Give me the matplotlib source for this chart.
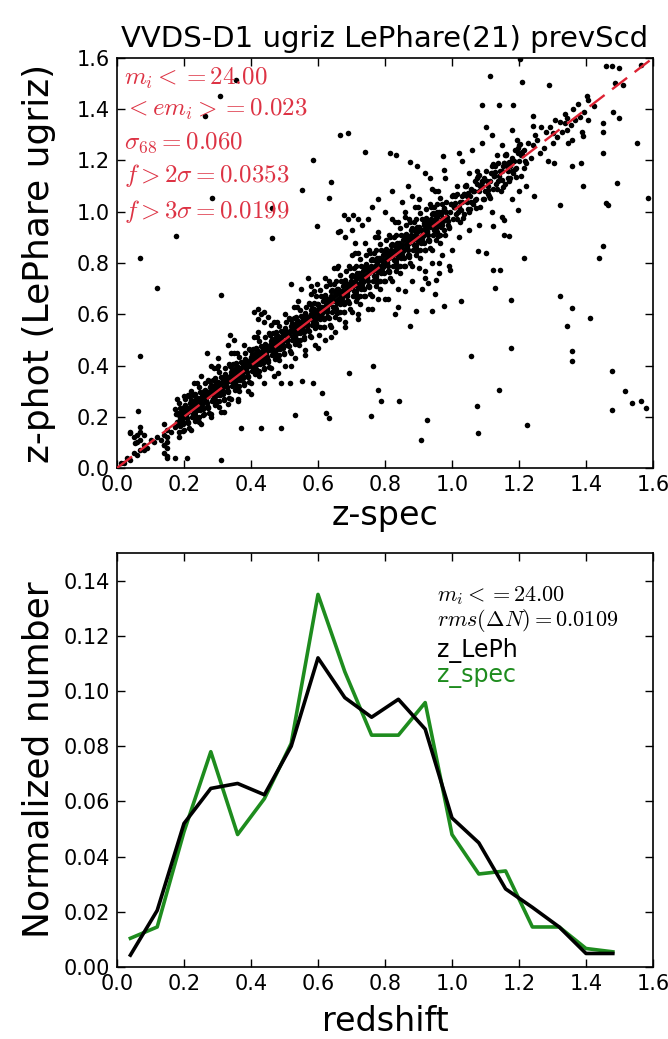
import matplotlib
matplotlib.use("Agg")
import matplotlib.pyplot as plt
import numpy as np

plt.rcParams['mathtext.fontset'] = 'cm'
plt.rcParams['font.family'] = ['DejaVu Sans']

# ---------------- top panel data (z-spec vs z-phot) ----------------
low_zspec = [0.02, 0.03, 0.04, 0.05, 0.06, 0.05, 0.06, 0.07, 0.07, 0.08,
             0.06, 0.08, 0.09, 0.10, 0.04, 0.07, 0.08, 0.11, 0.12, 0.13,
             0.14, 0.15, 0.14, 0.15, 0.15, 0.14, 0.15, 0.16, 0.15, 0.14]
low_zphot = [0.02, 0.04, 0.03, 0.06, 0.05, 0.12, 0.13, 0.11, 0.14, 0.13,
             0.10, 0.09, 0.08, 0.11, 0.14, 0.16, 0.07, 0.10, 0.12, 0.11,
             0.13, 0.15, 0.06, 0.08, 0.10, 0.17, 0.12, 0.14, 0.04, 0.09]

band_zspec = [
    0.172, 0.176, 0.180, 0.185, 0.189, 0.174, 0.182, 0.187, 0.178, 0.184,
    0.191, 0.197, 0.201, 0.206, 0.208, 0.195, 0.203, 0.199, 0.209, 0.193,
    0.213, 0.218, 0.223, 0.228, 0.211, 0.225, 0.220, 0.216, 0.226, 0.229,
    0.232, 0.236, 0.240, 0.245, 0.249, 0.234, 0.242, 0.247, 0.238, 0.244,
    0.251, 0.257, 0.261, 0.266, 0.268, 0.255, 0.263, 0.259, 0.269, 0.253,
    0.273, 0.278, 0.283, 0.288, 0.271, 0.285, 0.280, 0.276, 0.286, 0.289,
    0.292, 0.296, 0.300, 0.305, 0.309, 0.294, 0.302, 0.307, 0.298, 0.304,
    0.311, 0.317, 0.321, 0.326, 0.328, 0.315, 0.323, 0.319, 0.329, 0.313,
    0.333, 0.338, 0.343, 0.348, 0.331, 0.345, 0.340, 0.336, 0.346, 0.349,
    0.352, 0.356, 0.360, 0.365, 0.369, 0.354, 0.362, 0.367, 0.358, 0.364,
    0.371, 0.377, 0.381, 0.386, 0.388, 0.375, 0.383, 0.379, 0.389, 0.373,
    0.393, 0.398, 0.403, 0.408, 0.391, 0.405, 0.400, 0.396, 0.406, 0.409,
    0.412, 0.416, 0.420, 0.425, 0.429, 0.414, 0.422, 0.427, 0.418, 0.424,
    0.431, 0.437, 0.441, 0.446, 0.448, 0.435, 0.443, 0.439, 0.449, 0.433,
    0.453, 0.458, 0.463, 0.468, 0.451, 0.465, 0.460, 0.456, 0.466, 0.469,
    0.472, 0.476, 0.480, 0.485, 0.489, 0.474, 0.482, 0.487, 0.478, 0.484,
    0.491, 0.497, 0.501, 0.506, 0.508, 0.495, 0.503, 0.499, 0.509, 0.493,
    0.513, 0.518, 0.523, 0.528, 0.511, 0.525, 0.520, 0.516, 0.526, 0.529,
    0.532, 0.536, 0.540, 0.545, 0.549, 0.534, 0.542, 0.547, 0.538, 0.544,
    0.551, 0.557, 0.561, 0.566, 0.568, 0.555, 0.563, 0.559, 0.569, 0.553,
    0.573, 0.578, 0.583, 0.588, 0.571, 0.585, 0.580, 0.576, 0.586, 0.589,
    0.592, 0.596, 0.600, 0.605, 0.609, 0.594, 0.602, 0.607, 0.598, 0.604,
    0.611, 0.617, 0.621, 0.626, 0.628, 0.615, 0.623, 0.619, 0.629, 0.613,
    0.633, 0.638, 0.643, 0.648, 0.631, 0.645, 0.640, 0.636, 0.646, 0.649,
    0.652, 0.656, 0.660, 0.665, 0.669, 0.654, 0.662, 0.667, 0.658, 0.664,
    0.671, 0.677, 0.681, 0.686, 0.688, 0.675, 0.683, 0.679, 0.689, 0.673,
    0.693, 0.698, 0.703, 0.708, 0.691, 0.705, 0.700, 0.696, 0.706, 0.709,
    0.712, 0.716, 0.720, 0.725, 0.729, 0.714, 0.722, 0.727, 0.718, 0.724,
    0.731, 0.737, 0.741, 0.746, 0.748, 0.735, 0.743, 0.739, 0.749, 0.733,
    0.753, 0.758, 0.763, 0.768, 0.751, 0.765, 0.760, 0.756, 0.766, 0.769,
    0.772, 0.776, 0.780, 0.785, 0.789, 0.774, 0.782, 0.787, 0.778, 0.784,
    0.791, 0.797, 0.801, 0.806, 0.808, 0.795, 0.803, 0.799, 0.809, 0.793,
    0.813, 0.818, 0.823, 0.828, 0.811, 0.825, 0.820, 0.816, 0.826, 0.829,
    0.832, 0.836, 0.840, 0.845, 0.849, 0.834, 0.842, 0.847, 0.838, 0.844,
    0.851, 0.857, 0.861, 0.866, 0.868, 0.855, 0.863, 0.859, 0.869, 0.853,
    0.873, 0.878, 0.883, 0.888, 0.871, 0.885, 0.880, 0.876, 0.886, 0.889,
    0.892, 0.896, 0.900, 0.905, 0.909, 0.894, 0.902, 0.907, 0.898, 0.904,
    0.911, 0.917, 0.921, 0.926, 0.928, 0.915, 0.923, 0.919, 0.929, 0.913,
    0.933, 0.938, 0.943, 0.948, 0.931, 0.945, 0.940, 0.936, 0.946, 0.949,
    0.952, 0.956, 0.960, 0.965, 0.969, 0.954, 0.962, 0.967, 0.958, 0.964,
]
band_zphot = [
    0.16, 0.21, 0.18, 0.14, 0.19, 0.23, 0.17, 0.20, 0.27, 0.12,
    0.21, 0.17, 0.24, 0.20, 0.18, 0.22, 0.27, 0.15, 0.23, 0.19,
    0.22, 0.24, 0.20, 0.26, 0.18, 0.23, 0.15, 0.28, 0.21, 0.33,
    0.22, 0.27, 0.24, 0.20, 0.25, 0.29, 0.23, 0.26, 0.33, 0.18,
    0.27, 0.23, 0.30, 0.26, 0.24, 0.28, 0.33, 0.21, 0.29, 0.25,
    0.28, 0.30, 0.26, 0.32, 0.24, 0.29, 0.21, 0.34, 0.27, 0.39,
    0.28, 0.33, 0.30, 0.26, 0.31, 0.35, 0.29, 0.32, 0.39, 0.24,
    0.33, 0.29, 0.36, 0.32, 0.30, 0.34, 0.39, 0.27, 0.35, 0.31,
    0.34, 0.36, 0.32, 0.38, 0.30, 0.35, 0.27, 0.40, 0.33, 0.45,
    0.34, 0.39, 0.36, 0.32, 0.37, 0.41, 0.35, 0.38, 0.45, 0.30,
    0.39, 0.35, 0.42, 0.38, 0.36, 0.40, 0.45, 0.33, 0.41, 0.37,
    0.40, 0.42, 0.38, 0.44, 0.36, 0.41, 0.33, 0.46, 0.39, 0.51,
    0.40, 0.45, 0.42, 0.38, 0.43, 0.47, 0.41, 0.44, 0.51, 0.36,
    0.45, 0.41, 0.48, 0.44, 0.42, 0.46, 0.51, 0.39, 0.47, 0.43,
    0.46, 0.48, 0.44, 0.50, 0.42, 0.47, 0.39, 0.52, 0.45, 0.57,
    0.46, 0.51, 0.48, 0.44, 0.49, 0.53, 0.47, 0.50, 0.57, 0.42,
    0.51, 0.47, 0.54, 0.50, 0.48, 0.52, 0.57, 0.45, 0.53, 0.49,
    0.52, 0.54, 0.50, 0.56, 0.48, 0.53, 0.45, 0.58, 0.51, 0.63,
    0.52, 0.57, 0.54, 0.50, 0.55, 0.59, 0.53, 0.56, 0.63, 0.48,
    0.57, 0.53, 0.60, 0.56, 0.54, 0.58, 0.63, 0.51, 0.59, 0.55,
    0.58, 0.60, 0.56, 0.62, 0.54, 0.59, 0.51, 0.64, 0.57, 0.69,
    0.57, 0.64, 0.60, 0.55, 0.61, 0.67, 0.59, 0.63, 0.72, 0.52,
    0.63, 0.58, 0.67, 0.62, 0.59, 0.65, 0.71, 0.55, 0.66, 0.61,
    0.64, 0.67, 0.61, 0.69, 0.59, 0.65, 0.55, 0.72, 0.63, 0.78,
    0.63, 0.70, 0.66, 0.61, 0.67, 0.73, 0.65, 0.69, 0.78, 0.58,
    0.69, 0.64, 0.73, 0.68, 0.65, 0.71, 0.77, 0.61, 0.72, 0.67,
    0.70, 0.73, 0.67, 0.75, 0.65, 0.71, 0.61, 0.78, 0.69, 0.84,
    0.69, 0.76, 0.72, 0.67, 0.73, 0.79, 0.71, 0.75, 0.84, 0.64,
    0.75, 0.70, 0.79, 0.74, 0.71, 0.77, 0.83, 0.67, 0.78, 0.73,
    0.76, 0.79, 0.73, 0.81, 0.71, 0.77, 0.67, 0.84, 0.75, 0.90,
    0.75, 0.82, 0.78, 0.73, 0.79, 0.85, 0.77, 0.81, 0.90, 0.70,
    0.81, 0.76, 0.85, 0.80, 0.77, 0.83, 0.89, 0.73, 0.84, 0.79,
    0.82, 0.85, 0.79, 0.87, 0.77, 0.83, 0.73, 0.90, 0.81, 0.96,
    0.81, 0.88, 0.84, 0.79, 0.85, 0.91, 0.83, 0.87, 0.96, 0.76,
    0.87, 0.82, 0.91, 0.86, 0.83, 0.89, 0.95, 0.79, 0.90, 0.85,
    0.88, 0.91, 0.85, 0.93, 0.83, 0.89, 0.79, 0.96, 0.87, 1.02,
    0.87, 0.94, 0.90, 0.85, 0.91, 0.97, 0.89, 0.93, 1.02, 0.82,
    0.93, 0.88, 0.97, 0.92, 0.89, 0.95, 1.01, 0.85, 0.96, 0.91,
    0.94, 0.97, 0.91, 0.99, 0.89, 0.95, 0.85, 1.02, 0.93, 1.08,
    0.93, 1.00, 0.96, 0.91, 0.97, 1.03, 0.95, 0.99, 1.08, 0.88,
]

band2_zspec = [
    0.184, 0.191, 0.197, 0.187, 0.194, 0.181, 0.198, 0.189, 0.193, 0.185,
    0.212, 0.203, 0.216, 0.208, 0.219, 0.206, 0.210, 0.215, 0.202, 0.213,
    0.225, 0.234, 0.229, 0.238, 0.222, 0.232, 0.236, 0.227, 0.230, 0.237,
    0.244, 0.251, 0.257, 0.247, 0.254, 0.241, 0.258, 0.249, 0.253, 0.245,
    0.272, 0.263, 0.276, 0.268, 0.279, 0.266, 0.270, 0.275, 0.262, 0.273,
    0.285, 0.294, 0.289, 0.298, 0.282, 0.292, 0.296, 0.287, 0.290, 0.297,
    0.304, 0.311, 0.317, 0.307, 0.314, 0.301, 0.318, 0.309, 0.313, 0.305,
    0.332, 0.323, 0.336, 0.328, 0.339, 0.326, 0.330, 0.335, 0.322, 0.333,
    0.345, 0.354, 0.349, 0.358, 0.342, 0.352, 0.356, 0.347, 0.350, 0.357,
    0.364, 0.371, 0.377, 0.367, 0.374, 0.361, 0.378, 0.369, 0.373, 0.365,
    0.392, 0.383, 0.396, 0.388, 0.399, 0.386, 0.390, 0.395, 0.382, 0.393,
    0.405, 0.414, 0.409, 0.418, 0.402, 0.412, 0.416, 0.407, 0.410, 0.417,
    0.424, 0.431, 0.437, 0.427, 0.434, 0.421, 0.438, 0.429, 0.433, 0.425,
    0.452, 0.443, 0.456, 0.448, 0.459, 0.446, 0.450, 0.455, 0.442, 0.453,
    0.465, 0.474, 0.469, 0.478, 0.462, 0.472, 0.476, 0.467, 0.470, 0.477,
    0.484, 0.491, 0.497, 0.487, 0.494, 0.481, 0.498, 0.489, 0.493, 0.485,
    0.512, 0.503, 0.516, 0.508, 0.519, 0.506, 0.510, 0.515, 0.502, 0.513,
    0.525, 0.534, 0.529, 0.538, 0.522, 0.532, 0.536, 0.527, 0.530, 0.537,
    0.544, 0.551, 0.557, 0.547, 0.554, 0.541, 0.558, 0.549, 0.553, 0.545,
    0.572, 0.563, 0.576, 0.568, 0.579, 0.566, 0.570, 0.575, 0.562, 0.573,
    0.585, 0.594, 0.589, 0.598, 0.582, 0.592, 0.596, 0.587, 0.590, 0.597,
    0.604, 0.611, 0.617, 0.607, 0.614, 0.601, 0.618, 0.609, 0.613, 0.605,
    0.632, 0.623, 0.636, 0.628, 0.639, 0.626, 0.630, 0.635, 0.622, 0.633,
    0.645, 0.654, 0.649, 0.658, 0.642, 0.652, 0.656, 0.647, 0.650, 0.657,
    0.664, 0.671, 0.677, 0.667, 0.674, 0.661, 0.678, 0.669, 0.673, 0.665,
    0.692, 0.683, 0.696, 0.688, 0.699, 0.686, 0.690, 0.695, 0.682, 0.693,
    0.705, 0.714, 0.709, 0.718, 0.702, 0.712, 0.716, 0.707, 0.710, 0.717,
    0.724, 0.731, 0.737, 0.727, 0.734, 0.721, 0.738, 0.729, 0.733, 0.725,
    0.752, 0.743, 0.756, 0.748, 0.759, 0.746, 0.750, 0.755, 0.742, 0.753,
    0.765, 0.774, 0.769, 0.778, 0.762, 0.772, 0.776, 0.767, 0.770, 0.777,
    0.784, 0.791, 0.797, 0.787, 0.794, 0.781, 0.798, 0.789, 0.793, 0.785,
    0.812, 0.803, 0.816, 0.808, 0.819, 0.806, 0.810, 0.815, 0.802, 0.813,
    0.825, 0.834, 0.829, 0.838, 0.822, 0.832, 0.836, 0.827, 0.830, 0.837,
    0.844, 0.851, 0.857, 0.847, 0.854, 0.841, 0.858, 0.849, 0.853, 0.845,
    0.872, 0.863, 0.876, 0.868, 0.879, 0.866, 0.870, 0.875, 0.862, 0.873,
    0.885, 0.894, 0.889, 0.898, 0.882, 0.892, 0.896, 0.887, 0.890, 0.897,
    0.904, 0.911, 0.917, 0.907, 0.914, 0.901, 0.918, 0.909, 0.913, 0.905,
    0.932, 0.923, 0.936, 0.928, 0.939, 0.926, 0.930, 0.935, 0.922, 0.933,
    0.945, 0.954, 0.949, 0.958, 0.942, 0.952, 0.956, 0.947, 0.950, 0.957,
    0.964, 0.971, 0.977, 0.967, 0.974, 0.961, 0.978, 0.969, 0.973, 0.965,
]
band2_zphot = [
    0.205, 0.175, 0.225, 0.165, 0.195, 0.215, 0.145, 0.235, 0.185, 0.255,
    0.175, 0.215, 0.235, 0.195, 0.255, 0.205, 0.225, 0.155, 0.245, 0.285,
    0.235, 0.205, 0.245, 0.225, 0.265, 0.185, 0.255, 0.285, 0.215, 0.195,
    0.265, 0.235, 0.285, 0.225, 0.255, 0.275, 0.205, 0.295, 0.245, 0.315,
    0.235, 0.275, 0.295, 0.255, 0.315, 0.265, 0.285, 0.215, 0.305, 0.345,
    0.295, 0.265, 0.305, 0.285, 0.325, 0.245, 0.315, 0.345, 0.275, 0.255,
    0.325, 0.295, 0.345, 0.285, 0.315, 0.335, 0.265, 0.355, 0.305, 0.375,
    0.295, 0.335, 0.355, 0.315, 0.375, 0.325, 0.345, 0.275, 0.365, 0.405,
    0.355, 0.325, 0.365, 0.345, 0.385, 0.305, 0.375, 0.405, 0.335, 0.315,
    0.385, 0.355, 0.405, 0.345, 0.375, 0.395, 0.325, 0.415, 0.365, 0.435,
    0.355, 0.395, 0.415, 0.375, 0.435, 0.385, 0.405, 0.335, 0.425, 0.465,
    0.415, 0.385, 0.425, 0.405, 0.445, 0.365, 0.435, 0.465, 0.395, 0.375,
    0.445, 0.415, 0.465, 0.405, 0.435, 0.455, 0.385, 0.475, 0.425, 0.495,
    0.415, 0.455, 0.475, 0.435, 0.495, 0.445, 0.465, 0.395, 0.485, 0.525,
    0.475, 0.445, 0.485, 0.465, 0.505, 0.425, 0.495, 0.525, 0.455, 0.435,
    0.505, 0.475, 0.525, 0.465, 0.495, 0.515, 0.445, 0.535, 0.485, 0.555,
    0.475, 0.515, 0.535, 0.495, 0.555, 0.505, 0.525, 0.455, 0.545, 0.585,
    0.535, 0.505, 0.545, 0.525, 0.565, 0.485, 0.555, 0.585, 0.515, 0.495,
    0.565, 0.535, 0.585, 0.525, 0.555, 0.575, 0.505, 0.595, 0.545, 0.615,
    0.535, 0.575, 0.595, 0.555, 0.615, 0.565, 0.585, 0.515, 0.605, 0.645,
    0.595, 0.565, 0.605, 0.585, 0.625, 0.545, 0.615, 0.645, 0.575, 0.555,
    0.630, 0.590, 0.655, 0.580, 0.615, 0.640, 0.550, 0.670, 0.605, 0.695,
    0.585, 0.635, 0.660, 0.610, 0.690, 0.625, 0.650, 0.560, 0.675, 0.730,
    0.655, 0.620, 0.670, 0.645, 0.695, 0.590, 0.680, 0.720, 0.630, 0.605,
    0.690, 0.650, 0.715, 0.640, 0.675, 0.700, 0.610, 0.730, 0.665, 0.755,
    0.645, 0.695, 0.720, 0.670, 0.750, 0.685, 0.710, 0.620, 0.735, 0.790,
    0.715, 0.680, 0.730, 0.705, 0.755, 0.650, 0.740, 0.780, 0.690, 0.665,
    0.750, 0.710, 0.775, 0.700, 0.735, 0.760, 0.670, 0.790, 0.725, 0.815,
    0.705, 0.755, 0.780, 0.730, 0.810, 0.745, 0.770, 0.680, 0.795, 0.850,
    0.775, 0.740, 0.790, 0.765, 0.815, 0.710, 0.800, 0.840, 0.750, 0.725,
    0.810, 0.770, 0.835, 0.760, 0.795, 0.820, 0.730, 0.850, 0.785, 0.875,
    0.765, 0.815, 0.840, 0.790, 0.870, 0.805, 0.830, 0.740, 0.855, 0.910,
    0.835, 0.800, 0.850, 0.825, 0.875, 0.770, 0.860, 0.900, 0.810, 0.785,
    0.870, 0.830, 0.895, 0.820, 0.855, 0.880, 0.790, 0.910, 0.845, 0.935,
    0.825, 0.875, 0.900, 0.850, 0.930, 0.865, 0.890, 0.800, 0.915, 0.970,
    0.895, 0.860, 0.910, 0.885, 0.935, 0.830, 0.920, 0.960, 0.870, 0.845,
    0.930, 0.890, 0.955, 0.880, 0.915, 0.940, 0.850, 0.970, 0.905, 0.995,
    0.885, 0.935, 0.960, 0.910, 0.990, 0.925, 0.950, 0.860, 0.975, 1.030,
    0.955, 0.920, 0.970, 0.945, 0.995, 0.890, 0.980, 1.020, 0.930, 0.905,
    0.990, 0.950, 1.015, 0.940, 0.975, 1.000, 0.910, 1.030, 0.965, 1.055,
]

high_zspec = [
    0.971, 0.977, 0.981, 0.986, 0.988, 0.975,
    0.993, 0.998, 1.003, 1.008, 0.991, 1.005,
    1.012, 1.016, 1.020, 1.025, 1.029, 1.014,
    1.031, 1.037, 1.041, 1.046, 1.048, 1.035,
    1.053, 1.058, 1.063, 1.068, 1.051, 1.065,
    1.072, 1.076, 1.080, 1.085, 1.089, 1.074,
    1.091, 1.097, 1.101, 1.106, 1.108, 1.095,
    1.113, 1.118, 1.123, 1.128, 1.111, 1.125,
    1.132, 1.136, 1.140, 1.145, 1.149, 1.134,
    1.151, 1.157, 1.161, 1.166, 1.168, 1.155,
    1.173, 1.178, 1.183, 1.188, 1.171, 1.185,
    1.192, 1.196, 1.200, 1.205, 1.209, 1.194,
    1.215, 1.222, 1.228, 1.236, 1.241, 1.247,
    1.253, 1.262, 1.266, 1.275, 1.281, 1.287,
    1.294, 1.302, 1.308, 1.314, 1.321, 1.327,
    1.336, 1.342, 1.347, 1.354, 1.362, 1.368,
    1.375, 1.383, 1.388, 1.394, 1.402, 1.407,
    0.992, 0.983, 0.996, 0.988, 0.999, 1.005,
    1.014, 1.009, 1.018, 1.002, 1.032, 1.023,
    1.036, 1.028, 1.039, 1.045, 1.054, 1.049,
    1.058, 1.042, 1.072, 1.063, 1.076, 1.068,
    1.079, 1.085, 1.094, 1.089, 1.098, 1.082,
    1.112, 1.103, 1.116, 1.108, 1.119, 1.125,
    1.134, 1.129, 1.138, 1.122, 1.152, 1.143,
    1.156, 1.148, 1.159, 1.165, 1.174, 1.169,
    1.178, 1.162, 1.192, 1.183, 1.196, 1.188,
    1.199, 1.205, 1.214, 1.209, 1.218, 1.202,
]
high_zphot = [
    1.00, 0.93, 1.04, 0.98, 0.95, 1.01,
    1.00, 1.03, 0.97, 1.06, 0.94, 1.02,
    0.99, 1.07, 1.02, 0.96, 1.04, 1.10,
    1.06, 0.99, 1.10, 1.04, 1.01, 1.07,
    1.06, 1.09, 1.03, 1.12, 1.00, 1.08,
    1.05, 1.13, 1.08, 1.02, 1.10, 1.16,
    1.12, 1.05, 1.16, 1.10, 1.07, 1.13,
    1.12, 1.15, 1.09, 1.18, 1.06, 1.14,
    1.11, 1.19, 1.14, 1.08, 1.16, 1.22,
    1.18, 1.11, 1.22, 1.16, 1.13, 1.19,
    1.18, 1.21, 1.15, 1.24, 1.12, 1.20,
    1.17, 1.25, 1.20, 1.14, 1.22, 1.28,
    1.24, 1.19, 1.27, 1.21, 1.26, 1.30,
    1.28, 1.23, 1.33, 1.25, 1.31, 1.20,
    1.33, 1.27, 1.36, 1.29, 1.35, 1.31,
    1.38, 1.32, 1.27, 1.34, 1.40, 1.36,
    1.42, 1.37, 1.31, 1.39, 1.45, 1.36,
    0.935, 1.000, 1.030, 0.965, 1.060, 1.020,
    0.970, 1.035, 1.000, 1.065, 0.975, 1.040,
    1.070, 1.005, 1.100, 1.060, 1.010, 1.075,
    1.040, 1.105, 1.015, 1.080, 1.110, 1.045,
    1.140, 1.100, 1.050, 1.115, 1.080, 1.145,
    1.055, 1.120, 1.150, 1.085, 1.180, 1.140,
    1.090, 1.155, 1.120, 1.185, 1.095, 1.160,
    1.190, 1.125, 1.220, 1.180, 1.130, 1.195,
    1.160, 1.225, 1.135, 1.200, 1.230, 1.165,
    1.260, 1.220, 1.170, 1.235, 1.200, 1.265,
]

cloud_zspec = [
    0.41, 0.42, 0.43, 0.44, 0.45, 0.42, 0.44, 0.52, 0.55, 0.57,
    0.58, 0.66, 0.68, 0.70, 0.71, 0.73, 0.69, 0.72, 0.75, 0.76,
    0.78, 0.80, 0.82, 0.85, 0.87, 0.86, 0.88, 0.90, 0.92, 0.94,
    0.96, 0.97, 0.99, 0.91, 0.95, 0.81, 0.84, 0.86, 0.83, 1.03,
    1.06, 1.09, 1.12, 1.15, 1.05, 1.18, 1.10, 1.02, 1.05, 1.08,
    1.12, 1.15, 1.18, 1.20, 1.22, 0.22, 0.25, 0.28, 0.30, 0.33,
    0.35, 0.20, 0.27, 0.25, 0.28, 0.31, 0.33, 0.36, 0.39, 0.47,
    0.50, 0.53, 0.56, 0.59, 0.49, 0.62, 0.65, 0.68, 0.72, 0.75,
    0.78, 0.951, 0.994, 0.929,
    0.30, 0.34, 0.38, 0.42, 0.46, 0.50, 0.54, 0.58, 0.62, 0.66,
    0.70, 0.74, 0.78, 0.82, 0.86, 0.90, 0.94, 0.98,
    0.32, 0.36, 0.40, 0.44, 0.48, 0.52, 0.56, 0.60, 0.64, 0.68,
    0.72, 0.76, 0.80, 0.84, 0.88, 0.92, 0.96, 1.00,
]
cloud_zphot = [
    0.61, 0.62, 0.60, 0.61, 0.59, 0.58, 0.57, 0.72, 0.70, 0.74,
    0.71, 0.92, 0.90, 0.93, 0.88, 0.95, 0.97, 0.97, 0.97, 1.02,
    1.05, 1.00, 1.08, 1.04, 1.10, 0.98, 1.06, 0.78, 0.74, 0.80,
    0.76, 0.83, 0.79, 0.70, 0.68, 0.66, 0.63, 0.69, 0.60, 1.20,
    1.24, 1.27, 1.30, 1.26, 1.15, 1.32, 1.33, 0.90, 0.93, 0.95,
    1.00, 0.98, 1.05, 1.08, 1.10, 0.30, 0.36, 0.40, 0.43, 0.48,
    0.50, 0.28, 0.45, 0.17, 0.20, 0.22, 0.25, 0.27, 0.30, 0.36,
    0.40, 0.43, 0.46, 0.48, 0.33, 0.50, 0.53, 0.57, 0.60, 0.62,
    0.66, 0.735, 0.774, 0.722,
    0.40, 0.45, 0.48, 0.53, 0.56, 0.60, 0.65, 0.68, 0.74, 0.79,
    0.83, 0.88, 0.92, 0.97, 1.00, 1.05, 1.09, 1.13,
    0.22, 0.26, 0.29, 0.33, 0.37, 0.40, 0.44, 0.47, 0.51, 0.55,
    0.58, 0.62, 0.66, 0.70, 0.73, 0.77, 0.80, 0.85,
]

outlier_zspec = [
    0.354, 0.306, 0.263, 1.208, 1.112, 1.203, 1.289, 1.461, 1.477, 1.498,
    1.563, 1.488, 1.509, 1.090, 1.139, 1.182, 1.407, 1.423, 1.482, 1.498,
    1.241, 1.241, 1.300, 1.343, 1.337, 0.666, 0.691, 1.552, 1.450, 1.450,
    1.450, 1.493, 1.584, 1.461, 1.466, 0.585, 0.741, 0.816, 0.832, 0.875,
    0.897, 0.918, 0.934, 0.972, 0.977, 1.020, 0.639, 0.634, 0.553, 0.462,
    0.285, 0.177, 0.462, 0.070, 0.118, 0.311, 0.338, 0.070, 0.666, 0.677,
    0.704, 0.596, 1.321, 1.359, 1.412, 1.343, 1.176, 1.058, 1.359, 1.359,
    1.477, 1.515, 1.536, 1.563, 1.579, 1.477, 1.224, 1.139, 1.074, 1.079,
    0.908, 0.924, 0.789, 0.757, 0.779, 0.843, 0.693, 0.763, 0.612, 0.634,
    0.623, 0.532, 0.489, 0.430, 0.371, 0.585, 0.553, 0.516, 0.875, 0.892,
    0.940, 0.977, 1.026, 1.128, 1.176, 1.122, 1.144, 1.214, 1.450, 1.439,
    1.079, 1.101, 1.155, 1.171, 0.038, 0.064, 0.054, 0.070, 0.140, 0.150,
    0.172, 0.209, 0.311, 0.011, 1.305, 1.359, 1.391, 1.386, 1.359, 1.391,
    1.321, 1.246, 1.198, 1.155, 1.122,
]
outlier_zphot = [
    1.515, 1.453, 1.372, 1.508, 1.528, 1.596, 1.493, 1.567, 1.567, 1.560,
    1.573, 1.502, 1.495, 1.417, 1.417, 1.417, 1.437, 1.411, 1.391, 1.365,
    1.372, 1.333, 1.307, 1.365, 1.346, 1.300, 1.307, 1.268, 1.346, 1.313,
    1.229, 1.112, 1.053, 1.034, 1.027, 1.203, 1.235, 1.229, 1.222, 1.196,
    1.177, 1.151, 1.131, 1.216, 1.164, 1.229, 1.118, 1.053, 1.086, 1.014,
    1.053, 0.904, 0.897, 0.819, 0.702, 0.676, 0.520, 0.436, 0.923, 0.988,
    0.988, 0.943, 0.670, 0.624, 0.585, 0.553, 0.468, 0.436, 0.455, 0.416,
    0.377, 0.299, 0.254, 0.260, 0.234, 0.228, 0.169, 0.306, 0.241, 0.137,
    0.111, 0.189, 0.260, 0.202, 0.306, 0.260, 0.371, 0.397, 0.293, 0.195,
    0.215, 0.208, 0.156, 0.156, 0.156, 0.332, 0.338, 0.332, 0.553, 0.611,
    0.611, 0.631, 0.650, 0.702, 0.657, 0.774, 0.774, 0.819, 0.865, 0.819,
    0.845, 0.839, 0.910, 0.904, 0.137, 0.221, 0.098, 0.072, 0.091, 0.046,
    0.039, 0.039, 0.030, 0.020, 1.190, 1.281, 1.294, 1.190, 1.177, 1.099,
    1.027, 1.060, 1.008, 0.969, 0.943,
]

stats_top = [r'$m_i <= 24.00$', r'$<em_i> = 0.023$', r'$\sigma_{68} = 0.060$',
             r'$f > 2\sigma = 0.0353$', r'$f > 3\sigma = 0.0199$']
stats_top_y = [1.52, 1.40, 1.27, 1.14, 1.00]

# ---------------- bottom panel data ----------------
z_bins = [0.04, 0.12, 0.20, 0.28, 0.36, 0.44, 0.52, 0.60, 0.68, 0.76,
          0.84, 0.92, 1.00, 1.08, 1.16, 1.24, 1.32, 1.40, 1.48]
n_leph = [0.0043, 0.0205, 0.052, 0.0647, 0.0665, 0.0624, 0.080, 0.112, 0.0976, 0.0905,
          0.097, 0.0862, 0.054, 0.045, 0.0283, 0.0216, 0.0145, 0.0049, 0.0049]
n_spec = [0.0104, 0.0145, 0.049, 0.078, 0.048, 0.061, 0.081, 0.135, 0.107, 0.084,
          0.084, 0.0958, 0.048, 0.0337, 0.0348, 0.0145, 0.0145, 0.0067, 0.0055]

W, H = 668, 1039
fig = plt.figure(figsize=(W / 100, H / 100), dpi=100)

ax1 = fig.add_axes([117 / W, 1 - 468 / H, 536 / W, 410 / H])
ax2 = fig.add_axes([117 / W, 1 - 967 / H, 536 / W, 414 / H])

zs_all = low_zspec + band_zspec + band2_zspec + high_zspec + cloud_zspec + outlier_zspec
zp_all = low_zphot + band_zphot + band2_zphot + high_zphot + cloud_zphot + outlier_zphot
ax1.scatter(zs_all, zp_all, s=16, c='k', linewidths=0, zorder=2)
ax1.plot([0, 1.6], [0, 1.6], color='#dd2233', lw=1.7, ls=(0, (8, 4)), zorder=3)
for t, yv in zip(stats_top, stats_top_y):
    ax1.text(0.02, yv, t, color='#dd3344', fontsize=18, va='center', ha='left', zorder=4)
ax1.set_xlim(0, 1.6)
ax1.set_ylim(0, 1.6)
ax1.set_xticks(np.arange(0, 1.61, 0.2))
ax1.set_yticks(np.arange(0, 1.61, 0.2))
ax1.set_xticklabels(['%.1f' % v for v in np.arange(0, 1.61, 0.2)])
ax1.set_yticklabels(['%.1f' % v for v in np.arange(0, 1.61, 0.2)])
ax1.set_xlabel('z-spec', fontsize=24, labelpad=3)
ax1.set_ylabel('z-phot (LePhare ugriz)', fontsize=26, labelpad=15)
ax1.set_title('VVDS-D1 ugriz LePhare(21) prevScd', fontsize=21, pad=8)

ax2.plot(z_bins, n_spec, color='#1e8c1e', lw=2.6)
ax2.plot(z_bins, n_leph, color='k', lw=2.6)
ax2.set_xlim(0, 1.6)
ax2.set_ylim(0, 0.15)
ax2.set_xticks(np.arange(0, 1.61, 0.2))
ax2.set_xticklabels(['%.1f' % v for v in np.arange(0, 1.61, 0.2)])
ax2.set_yticks(np.arange(0, 0.141, 0.02))
ax2.set_yticklabels(['%.2f' % v for v in np.arange(0, 0.141, 0.02)])
ax2.set_xlabel('redshift', fontsize=24, labelpad=8)
ax2.set_ylabel('Normalized number', fontsize=26, labelpad=6)
ax2.text(0.955, 0.1345, r'$m_i <= 24.00$', fontsize=16, color='k', va='center')
ax2.text(0.955, 0.1255, r'$rms(\Delta N) = 0.0109$', fontsize=16, color='k', va='center')
ax2.text(0.955, 0.1145, 'z_LePh', fontsize=17, color='k', va='center')
ax2.text(0.955, 0.1055, 'z_spec', fontsize=17, color='#1e8c1e', va='center')

for ax in (ax1, ax2):
    ax.tick_params(direction='in', top=True, right=True, length=6, width=1,
                   labelsize=15, pad=5)
    for sp in ax.spines.values():
        sp.set_linewidth(1.2)

fig.savefig('out.png', dpi=100)
